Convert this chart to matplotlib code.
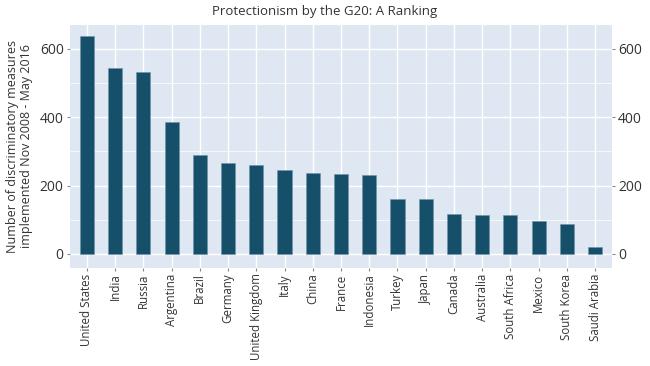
import matplotlib
matplotlib.use("Agg")
import matplotlib.pyplot as plt

# Data
countries = ["United States", "India", "Russia", "Argentina", "Brazil", "Germany",
             "United Kingdom", "Italy", "China", "France", "Indonesia", "Turkey",
             "Japan", "Canada", "Australia", "South Africa", "Mexico", "South Korea",
             "Saudi Arabia"]
measures = [639, 544, 533, 387, 291, 267, 260, 245, 237, 235, 230, 162,
            160, 118, 115, 113, 97, 89, 19]

# Colors
bar_color = '#164f69'
bg_color = '#dfe8f2'
text_color = '#333333'

plt.rcParams['font.family'] = ['Open Sans', 'DejaVu Sans']

fig = plt.figure(figsize=(6.5, 3.66), dpi=100)
ax = fig.add_axes([70 / 650, 1 - 268 / 366, 542 / 650, 243 / 366])
ax.set_facecolor(bg_color)

x = list(range(len(countries)))
ax.bar(x, measures, width=0.5, color=bar_color, edgecolor='#6f93a8',
       linewidth=0.4, zorder=3)

ax.set_xlim(-0.6, len(countries) - 0.4)
ax.set_ylim(-41, 670)
ax.set_yticks([0, 200, 400, 600])
ax.set_yticks([100, 300, 500], minor=True)
ax.set_xticks(x)
ax.set_xticklabels(countries, rotation=90, color=text_color)

ax.grid(True, which='major', color='white', linewidth=1.0, zorder=0)
ax.grid(True, which='minor', axis='y', color='white', linewidth=0.5, zorder=0)
ax.set_axisbelow(True)
for spine in ax.spines.values():
    spine.set_visible(False)

ax.tick_params(axis='both', which='major', length=2.5, color='#888888',
               labelsize=10, labelcolor=text_color, pad=2)
ax.tick_params(axis='x', labelsize=8.3, pad=1.5)
ax.tick_params(axis='y', which='minor', length=0)

# Right axis mirrors the left
ax2 = ax.twinx()
ax2.set_ylim(ax.get_ylim())
ax2.set_yticks([0, 200, 400, 600])
ax2.tick_params(axis='y', length=2.5, color='#888888', labelsize=10,
                labelcolor=text_color, pad=2)
for spine in ax2.spines.values():
    spine.set_visible(False)

ax.set_ylabel("Number of discriminatory measures\nimplemented Nov 2008 - May 2016",
              fontsize=9, color=text_color, linespacing=1.1, labelpad=5)
fig.text(0.5, 1 - 11 / 366, "Protectionism by the G20: A Ranking", ha='center',
         va='center', fontsize=9.5, color=text_color)

fig.savefig("out.png", dpi=100)
